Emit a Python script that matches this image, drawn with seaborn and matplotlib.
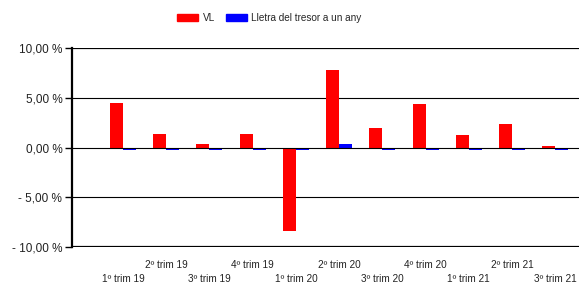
import pandas as pd
import matplotlib.pyplot as plt
import seaborn as sns

# Quarterly returns (%)
quarters = ['1º trim 19', '2º trim 19', '3º trim 19', '4º trim 19',
            '1º trim 20', '2º trim 20', '3º trim 20', '4º trim 20',
            '1º trim 21', '2º trim 21', '3º trim 21']
vl = [4.5, 1.4, 0.4, 1.4, -8.4, 7.8, 1.95, 4.35, 1.3, 2.4, 0.2]
lletra = [-0.3, -0.3, -0.3, -0.3, -0.3, 0.35, -0.3, -0.3, -0.3, -0.3, -0.3]
series_names = ['VL', 'Lletra del tresor a un any']
y_ticks = [-10, -5, 0, 5, 10]
y_labels = ['- 10,00 %', '- 5,00 %', '0,00 %', '5,00 %', '10,00 %']

df = pd.DataFrame({
    'trimestre': quarters * 2,
    'valor': vl + lletra,
    'serie': [series_names[0]] * len(quarters) + [series_names[1]] * len(quarters),
})

sns.set_style('white')
plt.rcParams['font.family'] = ['Liberation Sans', 'DejaVu Sans']

fig = plt.figure(figsize=(5.79, 2.82), dpi=100)
ax = fig.add_axes([72 / 579, 1 - 247 / 282, 1 - 72 / 579, 199 / 282])

# Gridlines; the zero line sits on top of the bars
for t in y_ticks:
    lw = 1.6 if abs(t) == 10 else 0.8
    ax.axhline(t, color='black', lw=lw, zorder=3 if t == 0 else 0)

sns.barplot(data=df, x='trimestre', y='valor', hue='serie', order=quarters,
            hue_order=series_names, palette=['#ff0000', '#0000ff'],
            width=0.6, saturation=1, ax=ax, zorder=2, legend=False,
            linewidth=0, edgecolor='none')

ax.set_ylim(-10, 10)
ax.set_xlim(-1.18, 10.55)
ax.set_yticks(y_ticks)
ax.set_yticklabels(y_labels, fontsize=8.5, color='#222222')
ax.tick_params(axis='y', length=5, width=1, color='black', pad=2, left=True)

# Staggered x labels: 1º/3º on the lower row, 2º/4º on the upper row
xlabels = [('\n' + q) if i % 2 == 0 else q for i, q in enumerate(quarters)]
ax.set_xticks(range(len(quarters)))
ax.set_xticklabels(xlabels, fontsize=7.2, color='#222222', linespacing=1.5)
ax.tick_params(axis='x', length=0, pad=9)

ax.set_xlabel('')
ax.set_ylabel('')
for s in ['top', 'right', 'bottom']:
    ax.spines[s].set_visible(False)
ax.spines['left'].set_color('black')
ax.spines['left'].set_linewidth(1.6)

handles = [plt.Rectangle((0, 0), 1, 1, color='#ff0000'),
           plt.Rectangle((0, 0), 1, 1, color='#0000ff')]
fig.legend(handles, series_names, loc='upper center', bbox_to_anchor=(0.465, 0.985),
           ncol=2, frameon=False, fontsize=7.2, handlelength=2.1, handleheight=0.75,
           columnspacing=1.1, handletextpad=0.4)

fig.savefig('out.png', dpi=100)
